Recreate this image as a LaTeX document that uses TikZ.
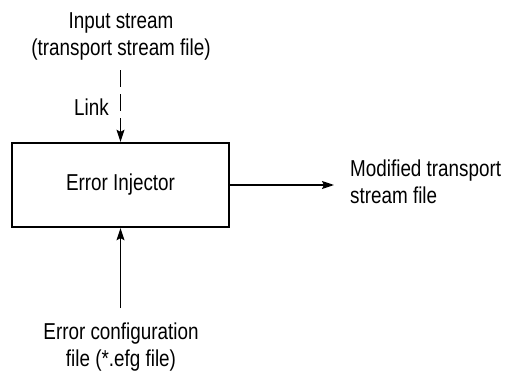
\documentclass[tikz,border=0pt]{standalone}
\usepackage{fontspec}
\setmainfont{Liberation Sans}[FakeStretch=0.82]
\usepackage{tikz}
\usetikzlibrary{arrows.meta}

\begin{document}
\begin{tikzpicture}[
    x=1pt, y=-1pt,
    lbl/.style ={font=\fontsize{23}{26.5}\selectfont, inner sep=0pt},
    blk/.style ={draw, line width=2.4pt, minimum width=217pt, minimum height=84pt,
                 font=\fontsize{23}{26.5}\selectfont},
    arr/.style ={line width=1.4pt, -{Stealth[length=12pt, width=8pt, inset=2pt]}},
    lnk/.style ={arr, dash pattern=on 17pt off 7pt}
]
\useasboundingbox (0,0) rectangle (507,372);

% Central block
\node[blk] (inj) at (120.5, 185) {Error Injector};

% Input stream (dashed link from the top)
\node[lbl, align=center, anchor=base] (instream) at (121, 55)
     {Input stream\\(transport stream file)};
\coordinate (lnktop) at (120.5, 70);
\draw[lnk] (lnktop) -- (inj.north);
\node[lbl, anchor=base east] (lnklbl) at (109, 115) {Link};

% Output stream
\coordinate (outend) at (334, 185);
\draw[arr] (inj.east) -- (outend);
\node[lbl, align=left, anchor=base west] (outstream) at (350, 203)
     {Modified transport\\stream file};

% Configuration file from below
\coordinate (cfgtop) at (120.5, 308);
\draw[arr] (cfgtop) -- (inj.south);
\node[lbl, align=center, anchor=base] (cfgfile) at (121, 366)
     {Error configuration\\file (*.efg file)};
\end{tikzpicture}
\end{document}
